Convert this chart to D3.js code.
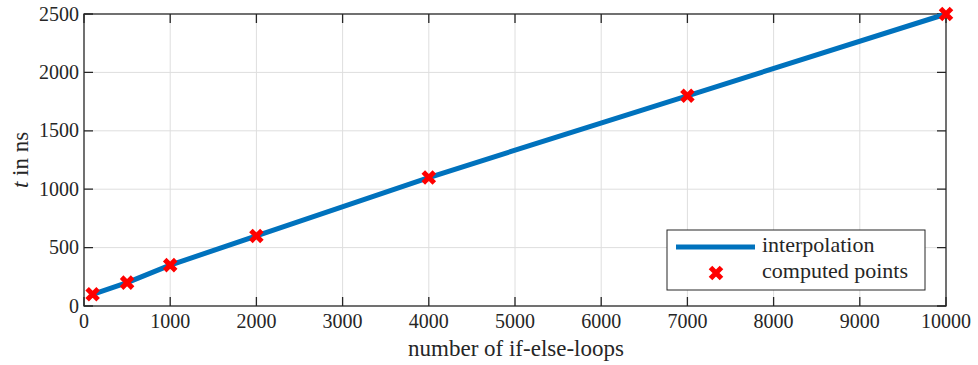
<!DOCTYPE html>
<html>
<head>
<meta charset="utf-8">
<script src="https://cdn.jsdelivr.net/npm/d3@7"></script>
</head>
<body style="margin:0">
<svg id="chart" width="978" height="365" style="display:block;background:#fff"></svg>
<script>
// Measured loop counts and run times
const loops = [100, 500, 1000, 2000, 4000, 7000, 10000];
const timesNs = [100, 200, 350, 600, 1100, 1800, 2500];
const xTicks = [0, 1000, 2000, 3000, 4000, 5000, 6000, 7000, 8000, 9000, 10000];
const yTicks = [0, 500, 1000, 1500, 2000, 2500];
const legendLabels = ["interpolation", "computed points"];

const W = 978, H = 365;
const m = { left: 84, right: 32, top: 14, bottom: 59 };
const FONT = "Liberation Serif";
const INK = "#262626";
const svg = d3.select("#chart");

const x = d3.scaleLinear().domain([0, 10000]).range([m.left, W - m.right]);
const y = d3.scaleLinear().domain([0, 2500]).range([H - m.bottom, m.top]);

const pts = loops.map((l, i) => ({ l, t: timesNs[i] }));

// grid
const grid = svg.append("g").attr("stroke", "#dedede").attr("stroke-width", 1);
grid.selectAll(".gx").data(xTicks.slice(1, -1)).join("line")
  .attr("x1", d => x(d)).attr("x2", d => x(d))
  .attr("y1", y(0)).attr("y2", y(2500));
grid.selectAll(".gy").data(yTicks.slice(1, -1)).join("line")
  .attr("y1", d => y(d)).attr("y2", d => y(d))
  .attr("x1", x(0)).attr("x2", x(10000));

// box frame with inward ticks on all four sides
const tickLen = 9;
const frame = svg.append("g");
frame.append("rect").attr("x", x(0)).attr("y", y(2500))
  .attr("width", x(10000) - x(0)).attr("height", y(0) - y(2500))
  .attr("fill", "none").attr("stroke", INK).attr("stroke-width", 1.3);
frame.selectAll(".xt").data(xTicks).join("path")
  .attr("d", d => `M${x(d)},${y(0)}v${-tickLen}M${x(d)},${y(2500)}v${tickLen}`)
  .attr("stroke", INK).attr("stroke-width", 1.3);
frame.selectAll(".yt").data(yTicks).join("path")
  .attr("d", d => `M${x(0)},${y(d)}h${tickLen}M${x(10000)},${y(d)}h${-tickLen}`)
  .attr("stroke", INK).attr("stroke-width", 1.3);

// tick labels
svg.append("g").selectAll("text").data(xTicks).join("text")
  .attr("x", d => x(d)).attr("y", y(0) + 22)
  .attr("text-anchor", "middle").attr("font-family", FONT).attr("font-size", 20).attr("fill", INK)
  .text(d => d3.format("d")(d));
svg.append("g").selectAll("text").data(yTicks).join("text")
  .attr("x", x(0) - 5).attr("y", d => y(d) + 6.5)
  .attr("text-anchor", "end").attr("font-family", FONT).attr("font-size", 20).attr("fill", INK)
  .text(d => d3.format("d")(d));

// series
const line = d3.line().x(d => x(d.l)).y(d => y(d.t));
svg.append("path").datum(pts).attr("d", line)
  .attr("fill", "none").attr("stroke", "#0072BD").attr("stroke-width", 5)
  .attr("stroke-linejoin", "round");

const cross = (cx, cy, s) => `M${cx - s},${cy - s}L${cx + s},${cy + s}M${cx - s},${cy + s}L${cx + s},${cy - s}`;
svg.append("g").selectAll("path").data(pts).join("path")
  .attr("d", d => cross(x(d.l), y(d.t), 5.5))
  .attr("stroke", "#ff0000").attr("stroke-width", 5).attr("fill", "none");

// axis titles
svg.append("text").attr("x", (x(0) + x(10000)) / 2 + 1).attr("y", 356)
  .attr("text-anchor", "middle").attr("font-family", FONT).attr("font-size", 23).attr("fill", INK)
  .text("number of if-else-loops");
const yl = svg.append("text").attr("transform", `translate(28,${(y(0) + y(2500)) / 2}) rotate(-90)`)
  .attr("text-anchor", "middle").attr("font-family", FONT).attr("font-size", 23).attr("fill", INK);
yl.append("tspan").attr("font-style", "italic").text("t");
yl.append("tspan").text(" in ns");

// legend
const lg = svg.append("g").attr("transform", "translate(667,230)");
lg.append("rect").attr("width", 258).attr("height", 60)
  .attr("fill", "#fff").attr("stroke", INK).attr("stroke-width", 1);
lg.append("line").attr("x1", 9).attr("x2", 88).attr("y1", 17).attr("y2", 17)
  .attr("stroke", "#0072BD").attr("stroke-width", 5);
lg.append("path").attr("d", cross(49, 43, 5.5)).attr("stroke", "#ff0000").attr("stroke-width", 5).attr("fill", "none");
lg.selectAll("text.lab").data(legendLabels).join("text").attr("class", "lab")
  .attr("x", 95).attr("y", (d, i) => 22 + i * 26)
  .attr("font-family", FONT).attr("font-size", 22).attr("fill", INK)
  .text(d => d);
</script>
</body>
</html>
